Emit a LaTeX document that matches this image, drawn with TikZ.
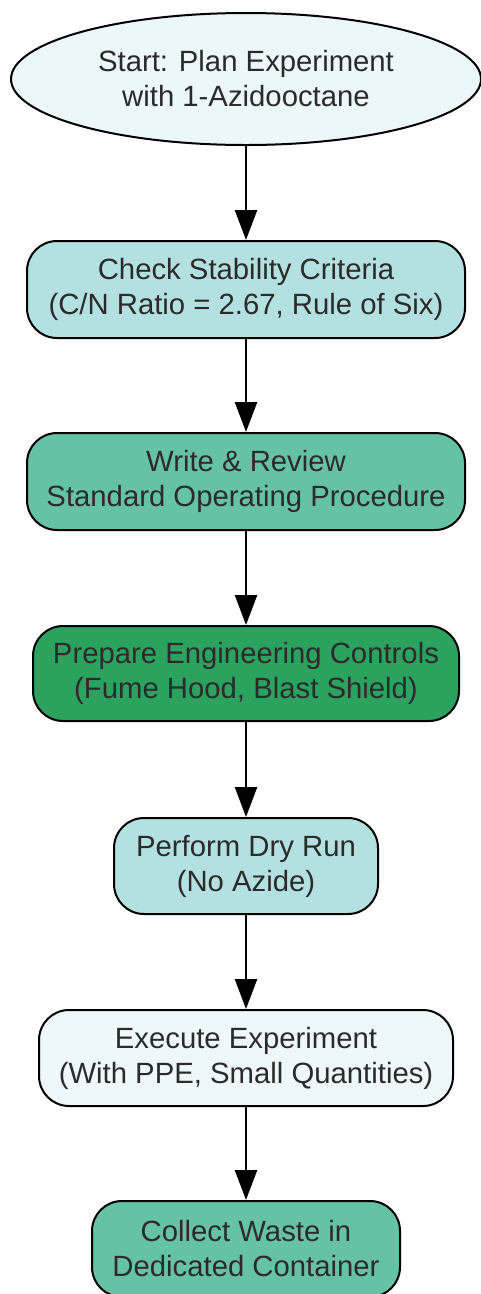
\documentclass[tikz,border=0pt]{standalone}
\usepackage{fontspec}
\setmainfont{Liberation Sans}
\usetikzlibrary{shapes.geometric,arrows.meta}
\definecolor{cLight}{HTML}{EBF7F9}
\definecolor{cPowder}{HTML}{B3E1E1}
\definecolor{cMint}{HTML}{66C2A5}
\definecolor{cGreen}{HTML}{2CA25F}
\definecolor{cPale}{HTML}{EEF8FB}
\definecolor{cText}{HTML}{2B2B2B}
\begin{document}
\begin{tikzpicture}[x=1pt,y=1pt,
  every node/.style={font=\fontsize{29.3}{35}\selectfont, text=cText, align=center, inner sep=0pt},
  stepbox/.style={draw=black, line width=2pt, rounded corners=30pt},
  arr/.style={draw=black, line width=2.5pt, -{Triangle[length=30pt,width=22pt]}}]
\useasboundingbox (0,0) rectangle (481,-1294);
\node[ellipse, draw=black, line width=2pt, fill=cLight, minimum width=470, minimum height=132] (start) at (246,-79) {Start: Plan Experiment\\with 1-Azidooctane};
\node[stepbox, fill=cPowder, minimum width=438, minimum height=97] (check) at (246,-289.5) {Check Stability Criteria\\(C/N Ratio = 2.67, Rule of Six)};
\node[stepbox, fill=cMint, minimum width=438, minimum height=97] (sop) at (246,-481.5) {Write \& Review\\Standard Operating Procedure};
\node[stepbox, fill=cGreen, minimum width=426, minimum height=95] (eng) at (246,-673.5) {Prepare Engineering Controls\\(Fume Hood, Blast Shield)};
\node[stepbox, fill=cPowder, minimum width=264, minimum height=96] (dry) at (246,-866) {Perform Dry Run\\(No Azide)};
\node[stepbox, fill=cPale, minimum width=414, minimum height=96] (exec) at (246,-1058) {Execute Experiment\\(With PPE, Small Quantities)};
\node[stepbox, fill=cMint, minimum width=308, minimum height=96] (waste) at (246,-1249) {Collect Waste in\\Dedicated Container};
\draw[arr] (start) -- (check);
\draw[arr] (check) -- (sop);
\draw[arr] (sop) -- (eng);
\draw[arr] (eng) -- (dry);
\draw[arr] (dry) -- (exec);
\draw[arr] (exec) -- (waste);
\end{tikzpicture}
\end{document}
